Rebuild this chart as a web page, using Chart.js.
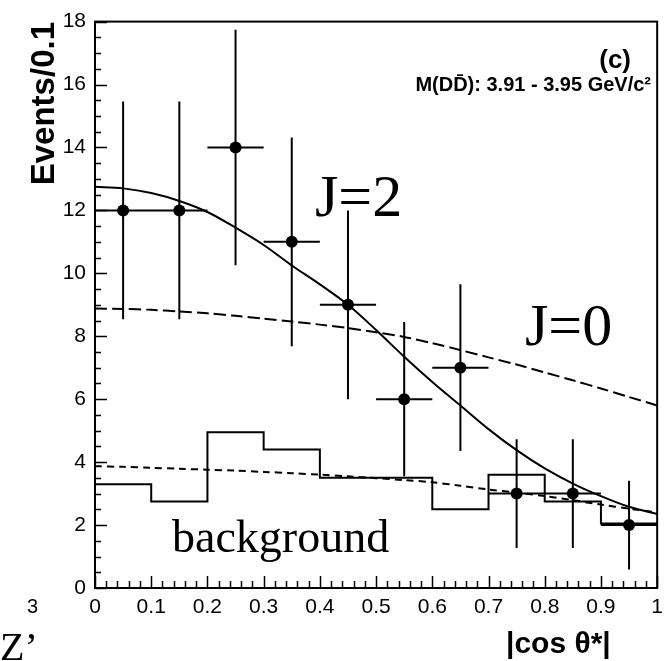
<!DOCTYPE html>
<html><head><meta charset="utf-8">
<script src="https://cdn.jsdelivr.net/npm/chart.js@4.4.0/dist/chart.umd.min.js"></script>
<style>html,body{margin:0;padding:0;background:#fff}#wrap{width:670px;height:661px;position:relative}</style>
</head><body><div id="wrap"><canvas id="c" width="670" height="661"></canvas></div>
<script>
// ---- data ----
const binCenters = [0.05,0.15,0.25,0.35,0.45,0.55,0.65,0.75,0.85,0.95];
const counts     = [12,12,14,11,9,6,7,3,3,2];
const countErrors= [3.46,3.46,3.74,3.32,3.0,2.45,2.65,1.73,1.73,1.41];
const binHalfWidth = 0.05;

const curveX = [0,0.05,0.1,0.15,0.2,0.25,0.3,0.35,0.4,0.45,0.5,0.55,0.6,0.65,0.7,0.75,0.8,0.85,0.9,0.95,1.0];
const j2Fit  = [12.75,12.7,12.55,12.3,11.95,11.45,10.9,10.25,9.65,9.0,8.2,7.35,6.55,5.8,5.05,4.38,3.8,3.32,2.92,2.58,2.35];
const j0Fit  = [8.88,8.87,8.84,8.79,8.73,8.65,8.56,8.47,8.37,8.26,8.13,7.98,7.78,7.56,7.33,7.1,6.85,6.6,6.34,6.07,5.8];
const bgFit  = [3.87,3.85,3.82,3.79,3.76,3.73,3.69,3.65,3.6,3.55,3.49,3.43,3.36,3.25,3.13,3.03,2.92,2.79,2.65,2.52,2.4];

const histEdges  = [0,0.1,0.2,0.3,0.4,0.5,0.6,0.7,0.8,0.9,1.0];
const histValues = [3.3,2.75,4.95,4.4,3.5,3.5,2.5,3.6,2.75,2.05];

const xTickValues = [0,0.1,0.2,0.3,0.4,0.5,0.6,0.7,0.8,0.9,1];
const xTickLabels = ['0','0.1','0.2','0.3','0.4','0.5','0.6','0.7','0.8','0.9','1'];
const yTickValues = [0,2,4,6,8,10,12,14,16,18];
const yTickLabels = ['0','2','4','6','8','10','12','14','16','18'];

const yTitle = 'Events/0.1';
const xTitle = '|cos \u03B8*|';
const panelLabel = '(c)';
const massLabel = 'M(DD\u0304): 3.91 - 3.95 GeV/c\u00B2';

// ---- build datasets ----
const pts = binCenters.map((x,i)=>({x:x,y:counts[i]}));
const toXY = ys => curveX.map((x,i)=>({x:x,y:ys[i]}));
const hist = histEdges.map((x,i)=>({x:x,y:histValues[Math.min(i,histValues.length-1)]}));

const framePlugin = {
  id:'frame',
  beforeDatasetsDraw(chart){
    const {ctx, chartArea:a, scales:{x,y}} = chart;
    ctx.save();
    ctx.strokeStyle='#000'; ctx.lineWidth=2;
    ctx.strokeRect(a.left, a.top, a.right-a.left, a.bottom-a.top);
    ctx.lineWidth=1.5;
    ctx.beginPath();
    for(let v=0; v<=18.001; v+=0.5){
      const py = Math.round(y.getPixelForValue(v))+0.5;
      const major = Math.abs(v/2-Math.round(v/2))<1e-6;
      ctx.moveTo(a.left, py); ctx.lineTo(a.left+(major?12:6), py);
    }
    for(let k=0;k<=50;k++){
      const v=k*0.02;
      const px = Math.round(x.getPixelForValue(v))+0.5;
      const major = k%5===0;
      ctx.moveTo(px, a.bottom); ctx.lineTo(px, a.bottom-(major?12:7));
    }
    ctx.stroke();
    ctx.restore();
  },
  afterDatasetsDraw(chart){
    const {ctx, scales:{x,y}} = chart;
    ctx.save();
    ctx.strokeStyle='#000'; ctx.lineWidth=2;
    ctx.beginPath();
    binCenters.forEach((c,i)=>{
      const px=x.getPixelForValue(c), py=y.getPixelForValue(counts[i]);
      ctx.moveTo(px, y.getPixelForValue(counts[i]-countErrors[i]));
      ctx.lineTo(px, y.getPixelForValue(counts[i]+countErrors[i]));
      ctx.moveTo(x.getPixelForValue(c-binHalfWidth), py);
      ctx.lineTo(x.getPixelForValue(c+binHalfWidth), py);
    });
    ctx.stroke();
    ctx.restore();
  },
  afterDraw(chart){
    const ctx = chart.ctx;
    ctx.save();
    ctx.fillStyle='#000';
    // y title
    ctx.save();
    ctx.translate(54, 22);
    ctx.rotate(-Math.PI/2);
    ctx.font='bold 33px "Liberation Sans", Arial, sans-serif';
    ctx.textAlign='right'; ctx.textBaseline='alphabetic';
    ctx.fillText(yTitle, 0, 0);
    ctx.restore();
    // x title
    ctx.font='bold 30px "Liberation Sans", Arial, sans-serif';
    ctx.textAlign='left'; ctx.textBaseline='alphabetic';
    ctx.fillText(xTitle, 506, 653);
    // panel labels
    ctx.font='bold 26px "Liberation Sans", Arial, sans-serif';
    ctx.textAlign='right';
    ctx.fillText(panelLabel, 631, 68);
    ctx.font='bold 20px "Liberation Sans", Arial, sans-serif';
    ctx.fillText(massLabel, 651, 91);
    // serif annotations
    ctx.textAlign='left';
    ctx.font='60px "Liberation Serif", "Times New Roman", serif';
    ctx.fillText('J=2', 315, 216);
    ctx.fillText('J=0', 525, 345);
    ctx.font='46px "Liberation Serif", "Times New Roman", serif';
    ctx.fillText('background', 172, 552);
    // stray fragments at the left edge
    ctx.font='20px "Liberation Sans", Arial, sans-serif';
    ctx.fillText('3', 27, 613);
    ctx.font='40px "Liberation Serif", "Times New Roman", serif';
    ctx.fillText('Z\u2019', 0, 660);
    ctx.restore();
  }
};

new Chart(document.getElementById('c').getContext('2d'), {
  type:'scatter',
  data:{datasets:[
    {data:hist, showLine:true, stepped:'before', borderColor:'#000', borderWidth:2, pointRadius:0, fill:false},
    {data:toXY(bgFit), showLine:true, borderColor:'#000', borderWidth:2, borderDash:[7,5], pointRadius:0, tension:0.3, fill:false},
    {data:toXY(j0Fit), showLine:true, borderColor:'#000', borderWidth:2, borderDash:[12,5], pointRadius:0, tension:0.3, fill:false},
    {data:toXY(j2Fit), showLine:true, borderColor:'#000', borderWidth:2, pointRadius:0, tension:0.3, cubicInterpolationMode:'monotone', fill:false},
    {data:pts, showLine:false, pointRadius:6, pointStyle:'circle', backgroundColor:'#000', borderColor:'#000', borderWidth:0}
  ]},
  options:{
    responsive:false, animation:false, events:[],
    layout:{padding:{left:0, top:20, right:7, bottom:0}},
    plugins:{legend:{display:false}, tooltip:{enabled:false}},
    scales:{
      x:{type:'linear', min:0, max:1,
        afterFit(s){ s.height = 73; },
        afterBuildTicks(s){ s.ticks = xTickValues.map(v=>({value:v})); },
        grid:{display:false, drawTicks:false}, border:{display:false},
        ticks:{autoSkip:false, maxRotation:0, padding:7, color:'#000',
          font:{family:'"Liberation Sans", Arial, sans-serif', size:21},
          callback:(v,i)=>xTickLabels[i]}
      },
      y:{type:'linear', min:0, max:18,
        afterFit(s){ s.width = 95; },
        afterBuildTicks(s){ s.ticks = yTickValues.map(v=>({value:v})); },
        grid:{display:false, drawTicks:false}, border:{display:false},
        ticks:{autoSkip:false, padding:9, color:'#000',
          font:{family:'"Liberation Sans", Arial, sans-serif', size:21},
          callback:(v,i)=>yTickLabels[i]}
      }
    }
  },
  plugins:[framePlugin]
});
</script>
</body></html>
